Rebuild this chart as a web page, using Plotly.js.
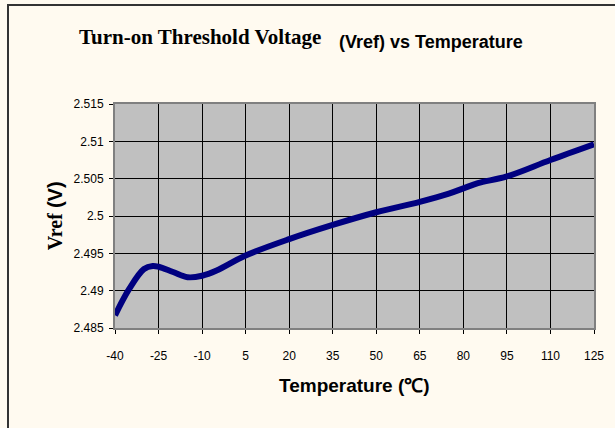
<!DOCTYPE html>
<html><head><meta charset="utf-8">
<script src="https://cdn.plot.ly/plotly-3.0.1.min.js"></script>
<style>
html,body{margin:0;padding:0;background:#FFFAF0;}
#wrap{position:relative;width:615px;height:428px;overflow:hidden;}
#chart{position:absolute;left:0;top:0;width:615px;height:428px;}
#frame{position:absolute;left:7px;top:4px;width:700px;height:500px;border-left:2px solid #333;border-top:2px solid #333;pointer-events:none;}
</style></head>
<body>
<div id="wrap"><div id="chart"></div><div id="frame"></div></div>
<script>
const temperature = [-40, -35, -30, -27, -25, -20, -15, -10, -5, 5, 20, 35, 50, 65, 75, 80, 85, 95, 110, 125];
const vref = [2.4867, 2.4903, 2.4929, 2.4933, 2.4932, 2.4925, 2.4918, 2.4920, 2.4927, 2.4947, 2.4969, 2.4988, 2.5005, 2.5019, 2.5030, 2.5037, 2.5044, 2.5053, 2.5075, 2.5096];
const xTicks = [-40, -25, -10, 5, 20, 35, 50, 65, 80, 95, 110, 125];
const yTicks = [2.485, 2.49, 2.495, 2.5, 2.505, 2.51, 2.515];
const yTickText = ['2.485', '2.49', '2.495', '2.5', '2.505', '2.51', '2.515'];

const data = [{
  x: temperature, y: vref, type: 'scatter', mode: 'lines',
  line: {color: '#000080', width: 6, shape: 'spline', smoothing: 1},
  hoverinfo: 'skip'
}];
const layout = {
  width: 615, height: 428,
  paper_bgcolor: '#FFFAF0', plot_bgcolor: '#C0C0C0',
  margin: {l: 115, r: 21, t: 104, b: 100},
  showlegend: false,
  xaxis: {
    range: [-40, 125], tickvals: xTicks, ticktext: xTicks.map(String),
    showgrid: true, gridcolor: '#000', gridwidth: 1,
    ticks: 'outside', ticklen: 4, tickcolor: '#000',
    ticklabelstandoff: 12,
    showline: true, linecolor: '#808080', linewidth: 2, mirror: true,
    zeroline: false,
    tickfont: {family: 'Liberation Sans', size: 12, color: '#000'}
  },
  yaxis: {
    range: [2.485, 2.515], tickvals: yTicks, ticktext: yTickText,
    showgrid: true, gridcolor: '#000', gridwidth: 1,
    ticks: 'outside', ticklen: 4, tickcolor: '#000',
    ticklabelstandoff: 3,
    showline: true, linecolor: '#808080', linewidth: 2, mirror: true,
    zeroline: false,
    tickfont: {family: 'Liberation Sans', size: 12, color: '#000'}
  },
  annotations: [
    {xref: 'paper', yref: 'paper', x: -0.125, y: 0.5, xanchor: 'center', yanchor: 'middle',
     textangle: -90, showarrow: false,
     text: '<span style="font-family:Liberation Serif">Vref</span> <span style="font-family:Liberation Sans">(V)</span>',
     font: {family: 'Liberation Serif', size: 20, color: '#000', weight: 'bold'}},
    {xref: 'paper', yref: 'paper', x: 0.5, y: -0.255, xanchor: 'center', yanchor: 'middle', showarrow: false,
     text: '<b>Temperature (℃)</b>',
     font: {family: 'Liberation Sans', size: 19, color: '#000'}},
    {xref: 'paper', yref: 'paper', x: -0.079, y: 1.3, xanchor: 'left', yanchor: 'middle', showarrow: false,
     text: '<b>Turn-on Threshold Voltage</b>',
     font: {family: 'Liberation Serif', size: 21, color: '#000'}},
    {xref: 'paper', yref: 'paper', x: 0.463, y: 1.278, xanchor: 'left', yanchor: 'middle', showarrow: false,
     text: '<b>(Vref) vs Temperature</b>',
     font: {family: 'Liberation Sans', size: 18, color: '#000'}}
  ]
};
Plotly.newPlot('chart', data, layout, {staticPlot: true, displayModeBar: false});
</script>
</body></html>
